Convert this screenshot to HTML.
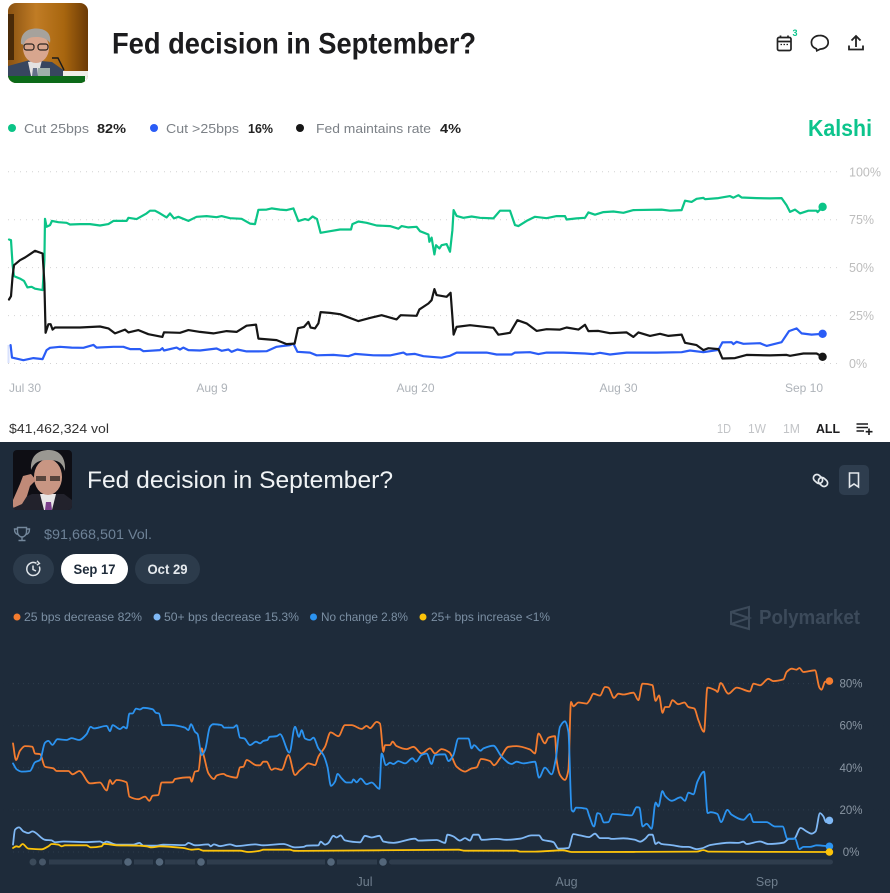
<!DOCTYPE html>
<html lang="en">
<head>
<meta charset="utf-8">
<title>Fed decision in September?</title>
<style>
html,body{margin:0;padding:0;background:#fff;}
#page{position:relative;width:890px;height:893px;overflow:hidden;}
svg{display:block;font-family:"Liberation Sans",sans-serif;}
</style>
</head>
<body>
<div id="page">
<svg id="canvas" width="890" height="893" viewBox="0 0 890 893" xmlns="http://www.w3.org/2000/svg">
  <defs>
    <clipPath id="clipTop"><rect x="8" y="3" width="80" height="80" rx="8"/></clipPath>
    <clipPath id="clipBot"><rect x="13" y="450" width="59" height="60" rx="4"/></clipPath>
    <linearGradient id="wood" x1="0" x2="1" y1="0" y2="0">
      <stop offset="0" stop-color="#8a5212"/><stop offset="0.35" stop-color="#c07c25"/><stop offset="0.7" stop-color="#a8660f"/><stop offset="1" stop-color="#6b3a06"/>
    </linearGradient>
  </defs>

  <rect x="0" y="0" width="890" height="442" fill="#ffffff"/>
  <rect x="0" y="442" width="890" height="451" fill="#1e2b3a"/>

  <!-- Kalshi header -->
  <g clip-path="url(#clipTop)">
    <rect x="8" y="3" width="80" height="80" fill="url(#wood)"/>
    <rect x="8" y="14" width="6" height="46" fill="#4a2a08"/>
    <path d="M8 66 L30 60 L52 62 L66 72 L66 78 L8 78Z" fill="#37465f"/>
    <path d="M28 62 L42 60 L38 76 L31 76Z" fill="#e4e2e2"/>
    <path d="M33 68 L37 68 L38 76 L32 76Z" fill="#65708a"/>
    <ellipse cx="36" cy="48" rx="13" ry="15" fill="#d8a68e"/>
    <path d="M21 44 C20 30 32 27 41 29 C50 31 51 38 50 43 C46 38 42 37 36 37 C29 37 25 39 24 45Z" fill="#a6a29c"/>
    <rect x="24" y="44" width="10" height="6" rx="2.500" fill="none" stroke="#2a2420" stroke-width="1.200"/>
    <rect x="38" y="44" width="10" height="6" rx="2.500" fill="none" stroke="#2a2420" stroke-width="1.200"/>
    <path d="M52 58 L58 58 L64 70" fill="none" stroke="#1c1c1c" stroke-width="1.400"/>
    <rect x="38" y="68" width="12" height="9" fill="#9fb0aa"/>
    <rect x="63" y="71" width="25" height="8" fill="#efeee8"/>
    <rect x="8" y="76" width="77" height="7" fill="#0c6a18"/>
    <rect x="85" y="79" width="3" height="4" fill="#fff"/>
  </g>
  <text x="112" y="53.500" font-size="30" font-weight="700" fill="#1c1c1e" textLength="364">Fed decision in September?</text>

  <g fill="none" stroke="#222" stroke-width="1.700">
    <rect x="777.500" y="37.500" width="13.500" height="13" rx="1.500"/>
    <path d="M777.500 41.500H791M780.500 35.500V38M788 35.500V38"/>
    <path d="M780.500 44.500h1.500M783.500 44.500h1.500M786.500 44.500h1.500" stroke-width="1.200"/>
  </g>
  <text x="792.500" y="36" font-size="9" font-weight="700" fill="#0cc48c">3</text>
  <path d="M820 35.500c-5 0-8.600 3-8.600 7 0 3 2 5.300 5 6.300l.4 2 3.400-1.700c4.800-.2 8-3 8-6.700 0-4-3.600-6.900-8.200-6.900z" fill="none" stroke="#222" stroke-width="1.700"/>
  <g fill="none" stroke="#222" stroke-width="1.800">
    <path d="M856 47V36.500M851.500 40.500L856 36L860.500 40.500"/>
    <path d="M849 45.500V49.500H863V45.500"/>
  </g>

  <!-- Kalshi legend -->
  <circle cx="12" cy="128" r="4" fill="#0bc487"/>
  <text x="24" y="133" font-size="13" fill="#7c8187" textLength="65">Cut 25bps</text>
  <text x="97" y="133" font-size="13" font-weight="700" fill="#222" textLength="29">82%</text>
  <circle cx="154" cy="128" r="4" fill="#2a5cf6"/>
  <text x="166" y="133" font-size="13" fill="#7c8187" textLength="73">Cut &gt;25bps</text>
  <text x="248" y="133" font-size="13" font-weight="700" fill="#222" textLength="25">16%</text>
  <circle cx="300" cy="128" r="4" fill="#161616"/>
  <text x="316" y="133" font-size="13" fill="#7c8187" textLength="115">Fed maintains rate</text>
  <text x="440" y="133" font-size="13" font-weight="700" fill="#222" textLength="21">4%</text>
  <text x="808" y="136" font-size="23" font-weight="700" fill="#0cc48c" textLength="64">Kalshi</text>

  <g id="kalshiGrid"></g>
  <g id="kalshiYLabels"></g>
  <g id="kalshiXLabels"></g>
  <line x1="8.500" y1="345" x2="8.500" y2="363" stroke="#2a5cf6" stroke-opacity="0.18" stroke-width="2"/>
  <g id="kalshiLines"></g>

  <text x="9" y="433" font-size="13" fill="#333" textLength="100">$41,462,324 vol</text>
  <text x="717" y="433" font-size="12.500" fill="#c2c4c7" textLength="14">1D</text>
  <text x="748" y="433" font-size="12.500" fill="#c2c4c7" textLength="18">1W</text>
  <text x="783" y="433" font-size="12.500" fill="#c2c4c7" textLength="17">1M</text>
  <text x="816" y="433" font-size="12.500" font-weight="700" fill="#1c1c1e" textLength="24">ALL</text>
  <g stroke="#1c1c1e" stroke-width="1.600" fill="none">
    <path d="M856.500 424H868M856.500 427.500H868M856.500 431H864"/>
    <path d="M869 428.500V435M865.700 431.700H872.500"/>
  </g>

  <!-- Polymarket header -->
  <g clip-path="url(#clipBot)">
    <rect x="13" y="450" width="59" height="60" fill="#0e0e14"/>
    <path d="M13 510 L14 502 L32 494 L64 494 L72 500 L72 510Z" fill="#22222c"/>
    <path d="M40 494 L56 494 L52 510 L44 510Z" fill="#e8e6e6"/>
    <path d="M46 502 L51 502 L52 510 L45 510Z" fill="#7b3f8a"/>
    <ellipse cx="48" cy="477" rx="14" ry="18" fill="#c89683"/>
    <path d="M31 470 C30 454 40 450 49 450 C60 450 66 458 65 471 C62 462 58 460 48 460 C38 460 34 463 31 470Z" fill="#9a9892"/>
    <rect x="36" y="476" width="10" height="5" fill="#3a2f2b" opacity="0.8"/>
    <rect x="50" y="476" width="10" height="5" fill="#3a2f2b" opacity="0.8"/>
    <path d="M13 500 L20 484 L23 476 L31 474 L36 480 L30 486 L27 496 L22 504 L13 508Z" fill="#c08a78"/>
  </g>
  <text x="87" y="488" font-size="24" fill="#f0f3f5" textLength="306">Fed decision in September?</text>

  <g fill="none" stroke="#e4e8ec" stroke-width="1.700">
    <rect x="813" y="475.500" width="10" height="7" rx="3.500" transform="rotate(42 818 479)"/>
    <rect x="818" y="478.500" width="10" height="7" rx="3.500" transform="rotate(42 823 482)"/>
  </g>
  <rect x="839" y="465" width="30" height="30" rx="5" fill="#2e3d4e"/>
  <path d="M849.500 473H858.500V487L854 484L849.500 487Z" fill="none" stroke="#e4e8ec" stroke-width="1.600"/>

  <g fill="none" stroke="#73879b" stroke-width="1.400">
    <path d="M17.500 527.500H26.500V532C26.500 535 24 537 22 537C20 537 17.500 535 17.500 532Z"/>
    <path d="M17.500 529H14.500C14.500 532 15.500 534 18 534.500M26.500 529H29.500C29.500 532 28.500 534 26 534.500"/>
    <path d="M22 537V540M18.500 540.500H25.500"/>
  </g>
  <text x="44" y="539" font-size="14" fill="#6e8297" textLength="108">$91,668,501 Vol.</text>

  <rect x="13" y="554" width="41" height="30" rx="15" fill="#2c3b4b"/>
  <g fill="none" stroke="#dfe4e9" stroke-width="1.500">
    <path d="M39.300 566.500A6.500 6.500 0 1 1 36.500 563.300"/>
    <path d="M33 565.500V569.500L36 571"/>
    <path d="M37 560.800L39.500 563.500L36.800 565" stroke-width="1.300"/>
  </g>
  <rect x="61" y="554" width="67" height="30" rx="15" fill="#ffffff"/>
  <text x="73.500" y="574" font-size="14" font-weight="700" fill="#1e2b3a" textLength="42">Sep 17</text>
  <rect x="135" y="554" width="65" height="30" rx="15" fill="#2c3b4b"/>
  <text x="147.500" y="574" font-size="14" font-weight="700" fill="#e6eaee" textLength="40">Oct 29</text>

  <circle cx="17" cy="617" r="3.500" fill="#f47c2f"/>
  <text x="24" y="621" font-size="12" fill="#7b8fa3" textLength="118">25 bps decrease 82%</text>
  <circle cx="157" cy="617" r="3.500" fill="#7fb8f5"/>
  <text x="164" y="621" font-size="12" fill="#7b8fa3" textLength="135">50+ bps decrease 15.3%</text>
  <circle cx="313.500" cy="617" r="3.500" fill="#2b93f0"/>
  <text x="321" y="621" font-size="12" fill="#7b8fa3" textLength="87">No change 2.8%</text>
  <circle cx="423" cy="617" r="3.500" fill="#fcc30a"/>
  <text x="431" y="621" font-size="12" fill="#7b8fa3" textLength="119">25+ bps increase &lt;1%</text>

  <g fill="none" stroke="#3c4a5a" stroke-width="2">
    <path d="M731 612L749 607V629L731 624ZM731 612L749 618L731 624"/>
  </g>
  <text x="759" y="624" font-size="20" font-weight="700" fill="#3c4a5a" textLength="101">Polymarket</text>

  <g id="polyGrid"></g>
  <g id="polyYLabels"></g>
  <g>
    <rect x="49" y="859.500" width="73" height="5" fill="#2f3d4d"/>
    <rect x="134" y="859.500" width="19" height="5" fill="#2f3d4d"/>
    <rect x="165" y="859.500" width="30" height="5" fill="#2f3d4d"/>
    <rect x="207" y="859.500" width="118" height="5" fill="#2f3d4d"/>
    <rect x="337" y="859.500" width="40" height="5" fill="#2f3d4d"/>
    <rect x="389" y="859.500" width="444" height="5" rx="2.500" fill="#2f3d4d"/>
    <circle cx="33" cy="862" r="3.500" fill="#3b4a5a"/>
    <circle cx="42.500" cy="862" r="3.500" fill="#465668"/>
    <circle cx="128" cy="862" r="3.800" fill="#53667a"/>
    <circle cx="159.500" cy="862" r="3.800" fill="#53667a"/>
    <circle cx="201" cy="862" r="3.800" fill="#53667a"/>
    <circle cx="331" cy="862" r="3.800" fill="#53667a"/>
    <circle cx="383" cy="862" r="3.800" fill="#53667a"/>
  </g>
  <g id="polyXLabels"></g>
  <g id="polyLines"></g>
</svg>
</div>

<script>
/* ---------- Kalshi chart data: sample number (one sample per time step) and percent ---------- */
const kalshiYTicks = [0, 25, 50, 75, 100];
const kalshiXTickSamples = [8, 101.5, 203.25, 304.75, 397.5];
const kalshiXTickLabels = ["Jul 30", "Aug 9", "Aug 20", "Aug 30", "Sep 10"];

const cut25Samples = [0,1,1.8,2.5,5.5,7.5,9.2,11.3,13,16.8,17.7,18,18.8,20.5,21.5,24.7,28.8,30.5,35.5,40.5,45.5,49.7,52.2,58.8,59.7,63.8,68.8,70.5,73,75.5,78.8,80.5,82.5,84.7,89.7,93.8,98.8,103.8,106.3,110.5,116.3,120.5,123,124.7,128.8,131.3,135.5,138.8,142.2,144.7,148,149.7,151.8,154,155.8,160.5,165.5,171,171.7,174.7,178.8,183.8,190.5,194.7,196.3,199.7,203.8,205.5,209.7,210.2,211.3,212.7,213.5,215.2,216.3,218.8,220.5,221.7,222.3,223.8,227.2,231.3,235.5,242.2,245.5,250.5,253,254.7,258.8,263,268.8,273.8,278,278.8,283.8,288,289.7,293,297.2,302.2,307.2,312.2,326.3,330.5,336.3,338,341.3,343.8,347.2,348,354.7,360.5,362.2,364.7,366.3,373.8,380.5,386.3,388.8,390.5,393,395.5,399.7,403.8,404.3,406.8];
const cut25Values = [64.7,64.3,51.3,45.6,44.3,43.1,39.7,40,39,38.3,53.9,75.5,71.3,72.2,74.4,73.7,73.4,72.5,72.7,72.7,72,72.7,74.4,74.4,76,75.3,78.3,79.7,79.7,78.3,76.2,78.3,75.7,76.5,74.4,76.5,76.9,76.3,76.9,75.8,75.5,73,72.7,80.2,80.3,80.9,80.3,80,80.9,74.3,75.3,74.8,76.7,75.3,68.2,69,69.9,69.9,72.7,74.1,73.4,72,71.7,70.3,71.7,71,71.3,69,67.3,63.5,65.7,56.9,61.7,60,61.7,62.3,58.3,69.6,80,77,76,76.7,76,75.7,79.7,79.7,72.2,71.7,74.4,76.5,75.8,76.9,76.9,75.1,75.7,76,78.8,77.6,79,79.3,78.6,80,80.3,79.7,80,84.9,84.3,85.9,86.4,85.7,86.3,87.3,86.5,87.8,86.6,86.3,86.1,86.3,82.6,79.1,80.3,78.3,79.7,79.7,79,81.7];

const cutOver25Samples = [0.8,1.5,7.2,12.2,16.8,18.8,20.5,25.5,31.3,37.2,42.2,43.8,52.2,57.2,60.5,65.5,67.2,75.5,76.7,77.5,83.8,85.5,87.2,89.7,95.5,103.8,106.3,109.7,111.3,114.2,118.8,124.7,128.8,133.8,137.2,140.5,142.2,144.2,150.5,153.8,162.2,169.7,173,182.2,190.5,197.2,198.8,203,207.2,216.3,220.5,223.8,238.8,243.8,251.3,253,260.5,264.7,268.8,277.2,288,292.2,295.5,300.5,308.8,323.8,336.3,340.5,347.2,354.7,356.7,361.3,362.2,363.8,367.2,375.5,378.8,386.3,390,393.8,396.3,401.3,406.8];
const cutOver25Values = [9.6,3.1,1.7,2.8,2.3,7,8.2,8.7,8.3,8.2,9.7,8.3,8.7,8.7,7.5,7.5,6.4,7,8,6.8,8.3,7.3,8.3,7,6.8,7.8,6.6,7.3,6.1,7.3,6.3,6.3,6.4,8.7,9.2,9.6,10.4,6.1,5.7,4.3,4.5,3.8,5,4.3,4.2,5.7,4.7,5,3.8,3,4,5.7,5.7,4.7,4.7,5.7,5.9,4.9,5.7,5.7,5.2,4.9,5.6,4.7,5.7,5.7,5.9,6.8,5.9,7.1,11,11.1,10.1,11.3,10.3,10.6,9.2,11.1,16.9,18.3,15.7,15.1,15.5];

const maintainSamples = [0,1,1.8,2.5,5.5,8,10.5,13,16.8,17.7,18.3,19.7,20.8,21.8,23,35.5,45.5,49.7,53,58,59.7,64.7,69.7,76.7,77.5,85.5,89.7,95.5,102.2,108.8,113.8,118.8,123.5,124.7,133.8,138.8,142.8,144.5,147.5,149.7,150.8,153,154.7,155.8,160.5,165.5,174.7,180.5,186.3,193.8,195.8,203.8,205.2,209.7,211.3,212.7,213.8,218.8,220.8,221.7,222.3,223.8,230.5,242.2,244.7,250.5,254.2,258.8,263.8,268.8,275.5,278.8,284.7,288,289.7,294.7,300.5,308.8,312.2,314.7,320.5,325.5,329.7,336.3,338,343.8,347.2,349.7,354.7,356.7,363,368.8,380.5,388.8,390.5,397.2,403.8,406.8];
const maintainValues = [33.4,35.1,45.6,51.3,53.9,55.3,57,58.8,57.4,41.7,16,20.5,20.5,17.7,18.8,18.8,19.3,18.3,15.7,17.7,16.2,17.4,15.3,13.9,16.3,16,17.4,16.5,15.7,16.9,16.5,19.7,20.3,13,12.2,10.1,10.4,18.4,19.1,21.7,18.8,18.3,20.9,26.8,26.4,25.7,22.1,23.8,25.2,23,25.2,24.9,28.2,31.3,33,38.8,35.7,34.8,36.9,24.3,15.1,19.1,20,18.6,15,16,22.6,20.9,17,17.9,17.7,18.8,17.7,20.2,16.9,17,15.8,16.2,13.9,16.2,14.4,15.5,14.4,15.1,10.8,9.6,7,8,7.5,2.6,2.8,4.5,4.2,4.5,4,5.2,5.2,3.5];

/* ---------- Polymarket chart data ---------- */
const polyYTicks = [0, 20, 40, 60, 80];
const polyXTickSamples = [175.75, 276.75, 377];
const polyXTickLabels = ["Jul", "Aug", "Sep"];

const dec25Samples = [0,1.5,3.5,6,9.7,11,13.5,16,20.2,21.8,27.7,29.8,33.2,38.5,43.5,46.8,48.5,49.7,51.8,56.8,58.2,62.7,66,68.2,69.8,72.7,74.3,79.8,81,88.5,89.3,91,92.7,94.3,95.5,97.7,100.5,101.8,105.2,106.8,111.8,113.5,115.2,116.8,121.8,123.5,125.2,126.8,129.3,131,134.3,137.7,141,143.2,145.2,147.7,151,152.7,156,158.8,162.7,166,169.3,174.3,176.8,178.5,181.8,183.5,185.2,186,188.5,189.8,191.8,196.8,200.2,204.3,208.5,211,214.3,218.2,221.8,226,229.3,231.8,234,238.5,240.5,243.5,247.7,251.8,258.5,261,262.7,266,267.7,271,271.8,273.5,276,277.7,279,280.2,282.7,286.8,288.5,290.2,293.5,296,297.7,300.5,302.7,305.2,310.2,312.7,314.7,319.7,321.3,323,324.8,326,328,329.7,332.7,335.7,337.7,340.7,342.7,345.5,347.2,351.3,352.2,353.8,357.7,361.8,368.5,370.2,373.5,377.7,380.2,385.2,386.8,389.3,391.8,393.2,395.2,401,403.2,404.3,406,408.2];
const dec25Values = [51.6,43.7,48.1,50.3,50,46.8,46.5,40.5,39.7,38.5,38.5,36.9,38.5,32.6,33,29.2,34.2,32.3,34.2,33.1,26.3,25.1,26.3,24.3,26.7,27.1,33,33.1,34.7,35.5,33.4,38.2,38.6,49.2,45.3,37.4,34.7,36.3,37.1,36.3,35.3,40.2,40.5,43.7,41.2,41.2,42.9,42.9,39,39.7,39,46.1,36.6,38.6,40.2,42.1,41.3,45.3,50,56.8,55,60.3,60.3,58.5,59.9,58.8,61.8,61,47.6,50.8,50.8,52.4,50.3,48.9,50,46.8,49.2,46.8,48.9,47.3,40.5,38.2,39.7,40.2,44.2,43.2,41.2,44.5,50,50.3,48.7,46.8,56.3,51.6,54.3,55,43.7,36.6,34.2,39,71.3,69.2,71,70.5,72.4,75.2,74.3,78.4,78.1,73.2,75.2,74.8,75.7,72.1,80,79.3,71.8,74.4,66.1,68.9,68.9,72.1,70.2,71,68.9,68.1,62.6,57.1,78.1,76.8,76,80.3,75.2,78.1,76.3,80,79.2,82.3,81.2,82,85.5,87.1,86.6,87.4,85.5,86.3,78.1,77.1,80.8,81.2];

const noChangeSamples = [0,1.8,4.3,8.5,11,13.5,16,17.7,19.7,22.2,26.8,29.3,33,36.8,38.8,40.5,46.8,48.5,49.8,53.5,55.2,56.8,58.2,59.8,61.5,63.5,65.2,69.8,71.5,73,74.7,79.3,86,87.7,89,91,92.3,94.3,96,98.5,100.2,104.3,105.5,110.2,111.8,113.5,115.7,118.5,121.5,123.5,125.2,127.2,128.2,131.8,133.5,138.2,141,143,144.3,146,148.5,150.2,152.7,155.2,157.2,159,161,162.3,164.3,166.8,169.3,170.2,171.8,173.8,176.8,179.3,183.2,184.3,186.5,188.5,190.2,192.7,196,199.7,201.5,204.3,206.8,209.3,211,216,217.7,220.2,222.7,227.7,229.3,230.5,233.8,235.2,240.2,244.3,249.3,251.8,255.2,261,263,266,269.3,271.3,273.5,276,277.7,279.3,280.2,281.5,286.8,288.2,290.5,292.2,293.5,295.5,297.7,299.8,309.3,311.8,313.2,314.8,316.8,319.3,321.3,322.7,324.7,326,329.3,333.8,336,337.7,340.2,342.2,345.5,347.3,348.8,352.2,354,357.2,359.3,365.2,368.5,370.2,376.8,381,384.8,387.2,391,393.2,395.2,398.5,401.8,408.2];
const noChangeValues = [42.1,39.3,38.2,38.5,42.6,43.7,51.9,52.8,50.9,53.6,53.2,54.1,53.2,56,59.5,58.7,59.9,57.4,60.3,58.4,59.5,58.7,65.8,65.8,68.1,67.7,68.5,67.8,66.1,65.8,60.3,60.3,59.1,57.9,60.7,57.1,56,46.1,48.4,59.5,60.7,60.3,59.1,59.1,60.3,54.3,53.9,50.8,52.4,51.6,52.8,53.2,54.7,55,56,47.2,59.5,54.7,57.9,53.9,53.2,54.3,49.2,46.1,40.5,31.4,33.4,37.1,35,33,33,34.5,33.1,34.9,32.2,33,30,46.8,41.3,42.4,41.8,43.2,42.1,44.5,42.9,46.1,46.8,41.8,46.1,46.4,43.2,46.1,53.9,53.9,49.2,50.8,48.1,49.2,50.5,45.3,41.8,42.9,42.1,42.9,35.3,40.1,36.9,43.7,59.5,62.1,57.1,20,19.2,21.1,20.5,16.9,12.1,18.5,18.1,14,14.2,18.1,17.4,21.3,21.1,12.1,13.4,11,23.5,21.6,29,26.7,24.3,26,24.3,28.2,27.4,33.4,38.2,18.5,18.9,18.1,14.2,20,17.7,15.3,18.1,14.2,14.2,12.1,12.1,6.3,6.3,1.4,2.4,2.4,3.2,2.7];

const dec50Samples = [0,1,3,5.2,7.7,9.7,16,19.3,21,25.2,36.8,43.5,45.2,46.8,51.8,60.2,63.2,65.2,71.8,75.2,86,87.7,91,97.7,98.8,100.5,103.5,108.5,111.8,121,125.2,135.2,141,145.2,146.8,152.7,153.8,156,157.7,160.2,161.8,163.8,166,173.5,176,179.3,183.2,185.2,190.2,201,202.7,211.8,216,217.2,220.2,223.5,226,228.5,230.2,232.7,234.3,241.8,246.8,253.5,259.3,263,264.8,270.2,272.7,277.7,280.2,283.5,288,291,293.5,297.7,299.3,305.2,311,313.5,316,318.2,319.7,321.3,322.7,324.3,329.3,335.2,337.7,341.8,344.3,348.5,358.5,362.7,365.2,366.8,373.5,377.7,385.2,388,390.5,393.8,396.8,399.3,401.3,403.5,405.2,406.5,408.2];
const dec50Values = [3.5,10.6,11.7,9.8,9,9.8,5.8,5.5,4.6,5,4.7,5,4.3,4.9,3.5,3.5,4.3,3,3,3.5,3.3,4.3,3.2,3.6,2.7,3.6,2.8,3.6,2.8,3.6,3.2,3.8,2.2,2.4,3,3.2,4.9,3.5,4.3,7.7,6.9,7.9,5.5,4.6,7.7,6.9,7.7,5,4.3,6.3,5.4,5.7,4.3,8.2,7.4,5.4,6.6,5.4,8.2,8.2,5.8,6.2,5.8,6.3,7.9,7.9,5.8,4.7,1.6,1.9,8.5,7.9,7.1,8.7,6.6,6.6,6.2,6.5,5.8,4.9,6.2,8.2,8.2,3.8,4.6,3.8,3.3,2.4,2.4,1.4,1.7,3.3,4.4,4.3,4.9,3.8,5,3.8,4.4,6.2,6.3,11.4,9.8,8.7,9.8,18.5,16.9,14.2,15];

const inc25Samples = [0,1.7,3,4.8,7.7,14.3,17.7,19.3,22.7,24.3,26,36.8,38.8,44.3,45.5,51.8,63.5,66.8,69.3,73.5,85.2,89.3,92.7,95.2,113.5,117.7,123.5,125.2,138.5,140.2,143.5,222.7,226,251.8,253.5,261,275.2,279.3,341.8,345.2,347.7,408.2];
const inc25Values = [1.9,2.7,2.4,3.8,1.6,1.3,2.7,3.8,3.5,2.7,3.2,3.2,2.2,2.7,3.9,3.2,3,2.7,2.2,2.7,1.9,1.1,1.4,0.6,0.6,0,0.6,1.1,1.1,0.6,0.5,1.1,0.6,0.6,0.2,0.2,0.8,0,0.2,0.9,0.2,0];

/* ---------- axis functions ---------- */
const NS = 'http://www.w3.org/2000/svg';
const kalshiX = s => 9 + 2 * s;
const kalshiY = v => 363.5 - v * 1.917;
const polyX = s => 13 + 2 * s;
const polyY = v => 852 - v * 2.105;

document.querySelectorAll('text[textLength]').forEach(t => t.setAttribute('lengthAdjust', 'spacingAndGlyphs'));

function linearPath(px, py) {
  return px.map((x, i) => (i ? 'L' : 'M') + x.toFixed(1) + ' ' + py[i].toFixed(1)).join('');
}

/* monotone cubic through the points, for the smoothed series */
function smoothPath(px, py) {
  const n = px.length;
  const sl = [];
  for (let i = 0; i < n - 1; i++) sl.push((py[i + 1] - py[i]) / (px[i + 1] - px[i]));
  const m = [sl[0]];
  for (let i = 1; i < n - 1; i++) {
    m.push(sl[i - 1] * sl[i] <= 0 ? 0 : 2 * sl[i - 1] * sl[i] / (sl[i - 1] + sl[i]));
  }
  m.push(sl[n - 2]);
  let d = 'M' + px[0].toFixed(1) + ' ' + py[0].toFixed(1);
  for (let i = 0; i < n - 1; i++) {
    const h = (px[i + 1] - px[i]) / 3;
    d += 'C' + (px[i] + h).toFixed(1) + ' ' + (py[i] + m[i] * h).toFixed(1) + ' ' +
         (px[i + 1] - h).toFixed(1) + ' ' + (py[i + 1] - m[i + 1] * h).toFixed(1) + ' ' +
         px[i + 1].toFixed(1) + ' ' + py[i + 1].toFixed(1);
  }
  return d;
}

function drawSeries(parent, samples, values, color, width, xf, yf, seriesName, dotR, smooth) {
  const px = samples.map(xf);
  const py = values.map(yf);
  const path = document.createElementNS(NS, 'path');
  path.setAttribute('d', smooth ? smoothPath(px, py) : linearPath(px, py));
  path.setAttribute('fill', 'none');
  path.setAttribute('stroke', color);
  path.setAttribute('stroke-width', width);
  path.setAttribute('stroke-linejoin', 'round');
  path.setAttribute('stroke-linecap', 'round');
  
  
  parent.appendChild(path);
  const last = samples.length - 1;
  const dot = document.createElementNS(NS, 'circle');
  dot.setAttribute('cx', px[last]);
  dot.setAttribute('cy', py[last]);
  dot.setAttribute('r', dotR);
  dot.setAttribute('fill', color);
  
  
  parent.appendChild(dot);
}

function drawGrid(parent, ticks, yf, x1, x2, color, dash) {
  ticks.forEach(t => {
    const ln = document.createElementNS(NS, 'line');
    ln.setAttribute('x1', x1);
    ln.setAttribute('x2', x2);
    ln.setAttribute('y1', yf(t));
    ln.setAttribute('y2', yf(t));
    ln.setAttribute('stroke', color);
    ln.setAttribute('stroke-dasharray', dash);
    
    
    parent.appendChild(ln);
  });
}

function drawLabel(parent, x, y, str, size, color, anchor, labelName) {
  const t = document.createElementNS(NS, 'text');
  t.setAttribute('x', x);
  t.setAttribute('y', y);
  t.setAttribute('font-size', size);
  t.setAttribute('fill', color);
  t.setAttribute('text-anchor', anchor);
  
  
  t.textContent = str;
  parent.appendChild(t);
}

/* Kalshi */
drawGrid(document.getElementById('kalshiGrid'), kalshiYTicks, kalshiY, 8, 842, '#d2d2d2', '1 5');
kalshiYTicks.forEach(t => drawLabel(document.getElementById('kalshiYLabels'), 849, kalshiY(t) + 4.5, t + '%', 12.5, '#bdbdbd', 'start', 'y-tick-label'));
kalshiXTickSamples.forEach((s, i) => drawLabel(document.getElementById('kalshiXLabels'), kalshiX(s), 392, kalshiXTickLabels[i], 12, '#aeb3b9', 'middle', 'x-tick-label'));
const kl = document.getElementById('kalshiLines');
drawSeries(kl, cut25Samples, cut25Values, '#0bc487', 2.2, kalshiX, kalshiY, 'cut-25bps', 4.2, false);
drawSeries(kl, cutOver25Samples, cutOver25Values, '#2a5cf6', 2.2, kalshiX, kalshiY, 'cut-over-25bps', 4.2, false);
drawSeries(kl, maintainSamples, maintainValues, '#161616', 2.2, kalshiX, kalshiY, 'fed-maintains-rate', 4.2, false);

/* Polymarket */
drawGrid(document.getElementById('polyGrid'), polyYTicks, polyY, 13, 830, '#2f3e4e', '1 4');
polyYTicks.forEach(t => drawLabel(document.getElementById('polyYLabels'), 851, polyY(t) + 4, t + '%', 11.5, '#8a96a3', 'middle', 'y-tick-label'));
polyXTickSamples.forEach((s, i) => drawLabel(document.getElementById('polyXLabels'), polyX(s), 886, polyXTickLabels[i], 12.5, '#6f7e8d', 'middle', 'x-tick-label'));
const pl = document.getElementById('polyLines');
drawSeries(pl, dec25Samples, dec25Values, '#f47c2f', 1.8, polyX, polyY, 'decrease-25bps', 3.8, true);
drawSeries(pl, dec50Samples, dec50Values, '#7fb8f5', 1.8, polyX, polyY, 'decrease-50bps', 3.8, true);
drawSeries(pl, noChangeSamples, noChangeValues, '#2b93f0', 1.8, polyX, polyY, 'no-change', 3.8, true);
drawSeries(pl, inc25Samples, inc25Values, '#fcc30a', 1.8, polyX, polyY, 'increase-25bps', 3.8, true);
</script>
</body>
</html>
